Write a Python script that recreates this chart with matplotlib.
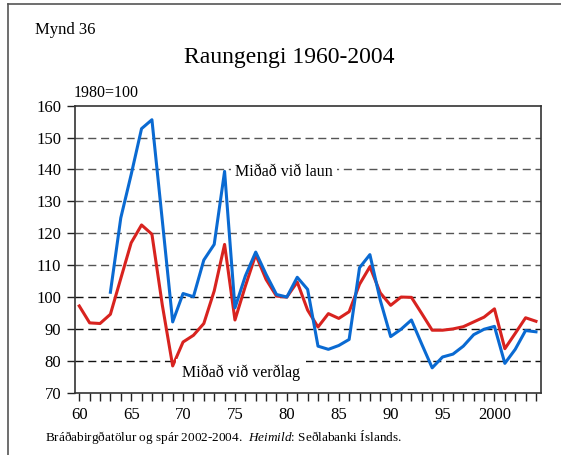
import matplotlib
matplotlib.use("Agg")
import matplotlib.pyplot as plt
from matplotlib.lines import Line2D

plt.rcParams['font.family'] = ['Liberation Serif', 'DejaVu Serif']
plt.rcParams['mathtext.fontset'] = 'custom'
plt.rcParams['mathtext.rm'] = 'Liberation Serif'
plt.rcParams['mathtext.it'] = 'Liberation Serif:italic'

years = list(range(1960, 2005))

# real exchange rate based on relative prices, 1980=100
verdlag = [97.2, 91.9, 91.7, 94.6, 105.8, 117.0, 122.6, 119.7, 97.5, 78.4,
           85.9, 88.0, 91.7, 101.9, 116.5, 92.8, 103.4, 113.3, 105.5, 100.3,
           100.0, 104.7, 95.9, 90.6, 94.8, 93.3, 95.4, 104.0, 109.5, 101.3,
           97.4, 100.0, 99.9, 94.8, 89.6, 89.6, 90.0, 90.7, 92.2, 93.7,
           96.3, 83.8, 88.6, 93.5, 92.4]

# real exchange rate based on relative wages (series starts 1963)
laun_years = list(range(1963, 2005))
laun = [101.5, 124.8, 138.4, 152.8, 155.6, 124.0, 92.2, 101.1, 100.1, 111.6,
        116.5, 139.4, 96.6, 106.6, 114.1, 107.1, 100.8, 100.0, 106.2, 102.4,
        84.6, 83.6, 84.8, 86.7, 109.2, 113.3, 99.0, 87.6, 89.9, 92.8,
        85.2, 77.8, 81.2, 82.1, 84.6, 88.2, 89.9, 90.8, 79.2, 83.6,
        89.5, 89.1]

grid_levels = [80, 90, 100, 110, 120, 130, 140, 150]
grid_colors = ['#111111', '#111111', '#111111', '#555555', '#555555', '#555555', '#555555', '#555555']

fig = plt.figure(figsize=(5.61, 4.55), dpi=100)
ax = fig.add_axes([0.1337, 0.1369, 0.8315, 0.6308])

for lev, c in zip(grid_levels, grid_colors):
    gl = ax.axhline(lev, color=c, linewidth=1.0, zorder=1)
    gl.set_dashes([5.8, 3.4])

ax.plot(years, verdlag, color='#d8231f', linewidth=2.2, zorder=3)
ax.plot(laun_years, laun, color='#0a6ad2', linewidth=2.2, zorder=4)

ax.set_xlim(1959.59, 2004.53)
ax.set_ylim(70, 160)
ax.set_yticks(range(70, 161, 10))
ax.set_xticks(range(1960, 2001, 5))
ax.set_xticklabels(['60', '65', '70', '75', '80', '85', '90', '95', '2000'])
ax.set_xticks(years, minor=True)
ax.tick_params(axis='both', which='both', direction='out', length=6, width=1.0,
               color='#222222', labelsize=12, pad=4)
for s in ax.spines.values():
    s.set_color('#333333')
    s.set_linewidth(1.2)

ax.text(1975.0, 139.2, 'Miðað við laun', fontsize=11.5, ha='left', va='center', zorder=5,
        bbox=dict(facecolor='white', edgecolor='none', pad=3))
ax.text(1969.9, 76.2, 'Miðað við verðlag', fontsize=11.5, ha='left', va='center', zorder=5,
        bbox=dict(facecolor='white', edgecolor='none', pad=4))

fig.text(74 / 561, 1 - 93 / 455, '1980=100', fontsize=11.5, ha='left', va='center')
fig.text(35 / 561, 1 - 30 / 455, 'Mynd 36', fontsize=12, ha='left', va='center')
fig.text(289 / 561, 1 - 57 / 455, 'Raungengi 1960-2004', fontsize=17, ha='center', va='center')
fig.text(45 / 561, 1 - 437 / 455,
         'Bráðabirgðatölur og spár 2002-2004.  $\\mathit{Heimild}$: Seðlabanki Íslands.',
         fontsize=9.5, ha='left', va='center')

# outer frame (left and top edges)
fig.add_artist(Line2D([8 / 561, 8 / 561], [0, 1 - 4 / 455], transform=fig.transFigure,
                      color='#555555', linewidth=1.2))
fig.add_artist(Line2D([8 / 561, 1], [1 - 4 / 455, 1 - 4 / 455], transform=fig.transFigure,
                      color='#555555', linewidth=1.2))

fig.savefig('out.png', dpi=100)
